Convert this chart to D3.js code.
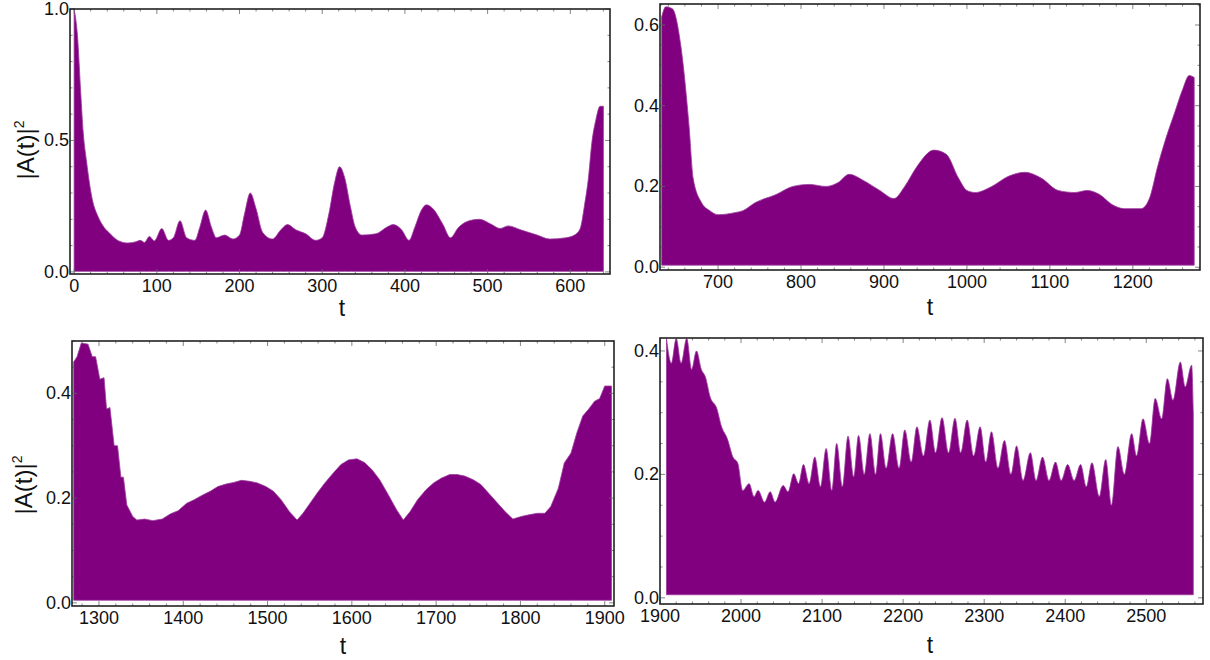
<!DOCTYPE html>
<html>
<head>
<meta charset="utf-8">
<script src="https://cdn.jsdelivr.net/npm/d3@7"></script>
<style>
  body { margin: 0; background: #fff; }
  text { font-family: "Liberation Sans", Arial, sans-serif; fill: #111; }
</style>
</head>
<body>
<svg id="chart" width="1210" height="660"></svg>
<script>
// envelope of |A(t)|^2 (t, value)
var t1 = [0,4,8,11,15,22,29,35,42,54,65,75,80,85,91,97,106,114,120,128,136,146,152,159,166,172,182,192,200,206,213,220,228,240,250,258,268,280,292,300,308,315,321,327,334,340,348,365,378,386,396,405,412,420,426,434,446,455,465,478,490,505,515,525,540,560,575,595,605,612,617,622,626,631,636,640];
var a1 = [1.0,0.9,0.68,0.53,0.42,0.275,0.21,0.175,0.15,0.118,0.11,0.115,0.12,0.112,0.135,0.118,0.165,0.12,0.13,0.195,0.13,0.12,0.17,0.235,0.17,0.13,0.14,0.125,0.14,0.22,0.30,0.24,0.15,0.125,0.16,0.18,0.16,0.145,0.12,0.13,0.22,0.34,0.40,0.36,0.25,0.17,0.14,0.145,0.17,0.18,0.16,0.12,0.17,0.235,0.255,0.24,0.18,0.13,0.17,0.195,0.20,0.18,0.165,0.175,0.16,0.14,0.125,0.13,0.14,0.165,0.25,0.36,0.49,0.58,0.63,0.63];

var t2 = [632,637,645,655,665,670,680,690,700,720,730,745,770,790,810,830,845,858,875,895,912,925,940,960,975,990,1000,1010,1030,1050,1070,1090,1110,1130,1145,1160,1175,1190,1210,1220,1230,1240,1250,1260,1268,1274];
var a2 = [0.62,0.645,0.64,0.55,0.35,0.22,0.16,0.14,0.13,0.135,0.14,0.16,0.18,0.2,0.205,0.2,0.21,0.23,0.215,0.19,0.17,0.2,0.25,0.29,0.28,0.22,0.19,0.185,0.2,0.225,0.235,0.22,0.19,0.185,0.19,0.18,0.155,0.145,0.145,0.17,0.25,0.32,0.38,0.44,0.475,0.47];

var t3 = [1270,1274,1279,1287,1292,1296,1301,1306,1309,1313,1318,1322,1326,1329,1333,1340,1345,1354,1364,1375,1385,1394,1404,1413,1422,1432,1441,1451,1460,1469,1479,1488,1498,1507,1516,1526,1535,1542,1549,1559,1568,1578,1587,1596,1606,1615,1624,1633,1642,1653,1661,1669,1678,1688,1697,1706,1716,1725,1734,1744,1753,1762,1773,1782,1791,1801,1810,1820,1829,1836,1845,1852,1860,1867,1874,1881,1888,1894,1900,1908];
var a3 = [0.46,0.47,0.496,0.494,0.47,0.47,0.427,0.43,0.37,0.373,0.30,0.30,0.24,0.24,0.187,0.165,0.158,0.16,0.157,0.16,0.17,0.176,0.19,0.197,0.205,0.213,0.222,0.227,0.23,0.234,0.232,0.229,0.222,0.213,0.197,0.174,0.158,0.171,0.187,0.21,0.229,0.248,0.264,0.273,0.275,0.268,0.254,0.235,0.21,0.178,0.158,0.174,0.197,0.216,0.229,0.238,0.245,0.245,0.242,0.235,0.226,0.21,0.19,0.174,0.16,0.165,0.168,0.171,0.171,0.184,0.219,0.267,0.286,0.325,0.357,0.37,0.385,0.39,0.414,0.414];

var t4 = [1908,1914,1920,1926,1933,1939,1945,1951,1956,1962,1970,1976,1983,1990,1996,2002,2010,2016,2021,2029,2036,2042,2052,2058,2065,2071,2077,2084,2091,2098,2105,2112,2118,2125,2132,2139,2145,2152,2159,2166,2172,2179,2187,2195,2202,2210,2217,2225,2233,2240,2248,2256,2264,2271,2279,2287,2295,2302,2309,2317,2325,2333,2340,2348,2357,2364,2372,2380,2388,2395,2403,2411,2419,2426,2433,2442,2450,2457,2465,2473,2482,2488,2496,2504,2511,2519,2526,2533,2542,2548,2556,2558];
var a4 = [0.42,0.38,0.42,0.38,0.42,0.37,0.40,0.37,0.358,0.325,0.307,0.277,0.258,0.228,0.218,0.174,0.185,0.164,0.174,0.155,0.172,0.155,0.182,0.172,0.201,0.185,0.216,0.185,0.228,0.18,0.242,0.174,0.25,0.18,0.262,0.196,0.263,0.2,0.266,0.2,0.266,0.21,0.266,0.21,0.272,0.22,0.277,0.23,0.288,0.235,0.292,0.235,0.291,0.235,0.288,0.23,0.277,0.22,0.269,0.21,0.255,0.2,0.246,0.19,0.235,0.19,0.228,0.19,0.22,0.19,0.216,0.19,0.216,0.18,0.219,0.164,0.224,0.15,0.245,0.2,0.266,0.23,0.29,0.25,0.323,0.29,0.355,0.32,0.382,0.342,0.377,0.30];

var panels = [
  { t: t1, a: a1, box: [70, 9, 610, 274], x: [-5, 648], y: [-0.008, 1.0], xTicks: [0,100,200,300,400,500,600], xMinor: 20,
    yTicks: [0, 0.5, 1.0], yMinor: 0.1, floor: 0.002, curve: d3.curveMonotoneX, ylab: [26, 150], tlab: [342, 308] },
  { t: t2, a: a2, box: [660, 4, 1200, 270], x: [630, 1281], y: [-0.007, 0.652], xTicks: [700,800,900,1000,1100,1200], xMinor: 20,
    yTicks: [0, 0.2, 0.4, 0.6], yMinor: 0.05, floor: 0.005, curve: d3.curveMonotoneX, ylab: null, tlab: [930, 307] },
  { t: t3, a: a3, box: [72, 341, 614, 606], x: [1268, 1911], y: [-0.006, 0.50], xTicks: [1300,1400,1500,1600,1700,1800,1900], xMinor: 20,
    yTicks: [0, 0.2, 0.4], yMinor: 0.05, floor: 0.005, curve: d3.curveLinear, ylab: [24, 485], tlab: [343, 646] },
  { t: t4, a: a4, box: [660, 338, 1203, 604], x: [1900, 2570], y: [-0.01, 0.421], xTicks: [1900,2000,2100,2200,2300,2400,2500], xMinor: 20,
    yTicks: [0, 0.2, 0.4], yMinor: 0.05, floor: 0.005, curve: d3.curveMonotoneX, ylab: null, tlab: [930, 645] }
];

var svg = d3.select("#chart");

panels.forEach(function (p, i) {
    var L = p.box[0], T = p.box[1], R = p.box[2], B = p.box[3];
    var x = d3.scaleLinear().domain(p.x).range([L, R]);
    var y = d3.scaleLinear().domain(p.y).range([B, T]);

    svg.append("clipPath").attr("id", "clip" + i)
        .append("rect").attr("x", L).attr("y", T).attr("width", R - L).attr("height", B - T);

    var data = p.t.map(function (d, k) { return { t: d, v: p.a[k] }; });

    svg.append("path")
        .datum(data)
        .attr("clip-path", "url(#clip" + i + ")")
        .attr("fill", "#800080")
        .attr("stroke", "#9a3a9a")
        .attr("stroke-width", 0.8)
        .attr("d", d3.area()
            .curve(p.curve)
            .x(function (d) { return x(d.t); })
            .y0(y(p.floor))
            .y1(function (d) { return y(d.v); }));

    // minor + major ticks, inward, all four sides
    var xm = d3.range(Math.ceil(p.x[0] / p.xMinor) * p.xMinor, p.x[1], p.xMinor);
    var ym = d3.range(0, p.y[1] + 1e-9, p.yMinor);
    var g = svg.append("g").attr("stroke", "#666").attr("stroke-width", 0.8);
    xm.forEach(function (v) {
        var major = p.xTicks.indexOf(Math.round(v)) >= 0, len = major ? 5 : 2.5;
        g.append("line").attr("x1", x(v)).attr("x2", x(v)).attr("y1", B).attr("y2", B - len);
        g.append("line").attr("x1", x(v)).attr("x2", x(v)).attr("y1", T).attr("y2", T + len);
    });
    ym.forEach(function (v) {
        var major = p.yTicks.some(function (m) { return Math.abs(m - v) < 1e-6; }), len = major ? 5 : 2.5;
        g.append("line").attr("y1", y(v)).attr("y2", y(v)).attr("x1", L).attr("x2", L + len);
        g.append("line").attr("y1", y(v)).attr("y2", y(v)).attr("x1", R).attr("x2", R - len);
    });

    svg.append("rect")
        .attr("x", L).attr("y", T).attr("width", R - L).attr("height", B - T)
        .attr("fill", "none").attr("stroke", "#222").attr("stroke-width", 1.6);

    svg.append("g").selectAll("text").data(p.xTicks).join("text")
        .attr("x", function (d) { return x(d); })
        .attr("y", B + 18)
        .attr("text-anchor", "middle")
        .style("font-size", "18px")
        .text(function (d) { return d; });

    svg.append("g").selectAll("text").data(p.yTicks).join("text")
        .attr("x", L - 1)
        .attr("y", function (d) { return y(d) + 6; })
        .attr("text-anchor", "end")
        .style("font-size", "18px")
        .text(function (d) { return d3.format(".1f")(d); });

    svg.append("text")
        .attr("x", p.tlab[0]).attr("y", p.tlab[1] + 8)
        .attr("text-anchor", "middle")
        .style("font-size", "23px")
        .text("t");

    if (p.ylab) {
        var yl = svg.append("text")
            .attr("transform", "translate(" + (p.ylab[0] + 8) + "," + p.ylab[1] + ") rotate(-90)")
            .attr("text-anchor", "middle")
            .style("font-size", "24px");
        yl.append("tspan").text("|A(t)|");
        yl.append("tspan").attr("dy", -10).style("font-size", "14px").text("2");
    }
});
</script>
</body>
</html>
